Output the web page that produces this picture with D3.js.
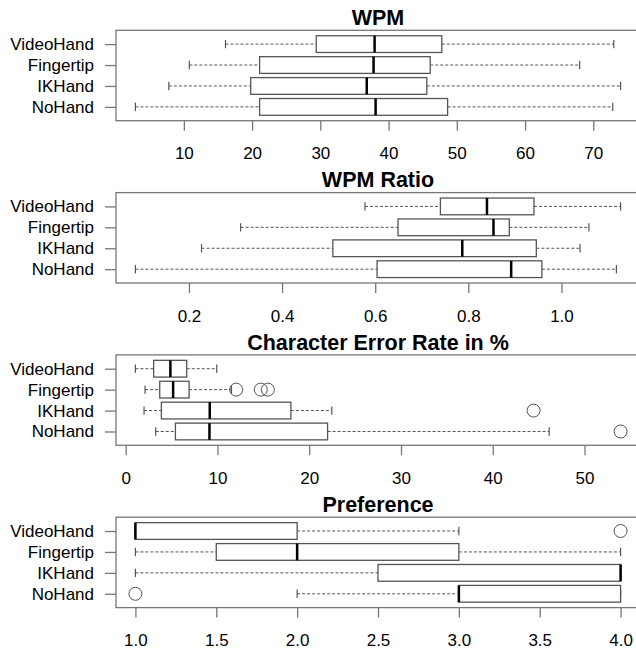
<!DOCTYPE html>
<html>
<head>
<meta charset="utf-8">
<script src="https://cdn.jsdelivr.net/npm/d3@7"></script>
<style>
  body { margin: 0; background: #fff; }
  svg { display: block; font-family: "Liberation Sans", Arial, sans-serif; }
</style>
</head>
<body>
<svg></svg>
<script>
// groups bottom -> top, stats are [low whisker, q1, median, q3, high whisker]
var groups = ["NoHand", "IKHand", "Fingertip", "VideoHand"];

var wpmStats = [
    [2.9, 21.1, 38.1, 48.65, 72.85],
    [7.8, 19.8, 36.8, 45.6, 74.0],
    [10.8, 21.1, 37.8, 46.1, 68.0],
    [16.1, 29.4, 37.95, 47.8, 73.0]
];
var wpmOutliers = [[], [], [], []];
var wpmTicks = [10, 20, 30, 40, 50, 60, 70];

var ratioStats = [
    [0.085, 0.604, 0.892, 0.958, 1.118],
    [0.227, 0.509, 0.787, 0.946, 1.040],
    [0.311, 0.649, 0.854, 0.888, 1.059],
    [0.578, 0.740, 0.840, 0.941, 1.127]
];
var ratioOutliers = [[], [], [], []];
var ratioTicks = [0.2, 0.4, 0.6, 0.8, 1.0];

var cerStats = [
    [3.27, 5.42, 9.13, 22.0, 46.15],
    [2.0, 3.89, 9.16, 18.0, 22.46],
    [2.11, 3.71, 5.17, 6.91, 11.53],
    [1.06, 3.05, 4.87, 6.65, 9.92]
];
var cerOutliers = [[53.93], [44.45], [12.04, 14.72, 15.49], []];
var cerTicks = [0, 10, 20, 30, 40, 50];

var prefStats = [
    [2, 3, 3, 4, 4],
    [1, 2.5, 4, 4, 4],
    [1, 1.5, 2, 3, 4],
    [1, 1, 1, 2, 3]
];
var prefOutliers = [[1], [], [], [4]];
var prefTicks = [1.0, 1.5, 2.0, 2.5, 3.0, 3.5, 4.0];

var panels = [
    {title: "WPM", stats: wpmStats, out: wpmOutliers, ticks: wpmTicks, fmt: d3.format("d")},
    {title: "WPM Ratio", stats: ratioStats, out: ratioOutliers, ticks: ratioTicks, fmt: d3.format(".1f")},
    {title: "Character Error Rate in %", stats: cerStats, out: cerOutliers, ticks: cerTicks, fmt: d3.format("d")},
    {title: "Preference", stats: prefStats, out: prefOutliers, ticks: prefTicks, fmt: d3.format(".1f")}
];

var W = 636, H = 652;
var svg = d3.select("svg").attr("width", W).attr("height", H);
svg.append("rect").attr("width", W).attr("height", H).attr("fill", "#fff");

var plot = {l: 116, r: 640, t: 30.3, b: 120.7};
var lineCol = "#555";

panels.forEach(function(p, i) {
    var g = svg.append("g").attr("transform", "translate(0," + (i * 162.3) + ")");

    // R style range: data extent padded by 4%
    var all = [];
    p.stats.forEach(function(s, k) { all = all.concat(s, p.out[k]); });
    var lo = d3.min(all), hi = d3.max(all), pad = (hi - lo) * 0.04;

    var x = d3.scaleLinear().domain([lo - pad, hi + pad]).range([plot.l, plot.r]);
    var y = d3.scaleLinear().domain([0.34, 4.66]).range([plot.b, plot.t]);
    var half = (y(1) - y(1.4));

    g.append("text")
        .attr("x", (plot.l + plot.r) / 2)
        .attr("y", 25)
        .attr("text-anchor", "middle")
        .attr("font-size", 21.5)
        .attr("font-weight", "bold")
        .text(p.title);

    var xAxis = d3.axisBottom(x).tickValues(p.ticks).tickFormat(p.fmt)
        .tickSize(10).tickPadding(16.5);
    var xg = g.append("g").attr("transform", "translate(0," + plot.b + ")").call(xAxis);
    xg.select(".domain").remove();
    xg.selectAll("line").attr("stroke", "#777").attr("stroke-width", 1.3);
    xg.selectAll("text").attr("font-size", 17).attr("fill", "#000");

    var yAxis = d3.axisLeft(y).tickValues([1, 2, 3, 4])
        .tickFormat(function(d) { return groups[d - 1]; })
        .tickSize(11).tickPadding(11);
    var yg = g.append("g").attr("transform", "translate(" + plot.l + ",0)").call(yAxis);
    yg.select(".domain").remove();
    yg.selectAll("line").attr("stroke", "#777").attr("stroke-width", 1.3);
    yg.selectAll("text").attr("font-size", 17).attr("fill", "#000");

    p.stats.forEach(function(s, k) {
        var cy = y(k + 1);
        var bg = g.append("g");

        // whiskers
        [[s[0], s[1]], [s[3], s[4]]].forEach(function(w) {
            if (w[0] === w[1]) return;
            bg.append("line")
                .attr("x1", x(w[0])).attr("x2", x(w[1]))
                .attr("y1", cy).attr("y2", cy)
                .attr("stroke", lineCol).attr("stroke-width", 1)
                .attr("stroke-dasharray", "3,2");
        });
        // staples
        [s[0], s[4]].forEach(function(v) {
            bg.append("line")
                .attr("x1", x(v)).attr("x2", x(v))
                .attr("y1", cy - half / 2).attr("y2", cy + half / 2)
                .attr("stroke", lineCol).attr("stroke-width", 1.2);
        });
        bg.append("rect")
            .attr("x", x(s[1])).attr("y", cy - half)
            .attr("width", x(s[3]) - x(s[1])).attr("height", half * 2)
            .attr("fill", "#fff").attr("stroke", lineCol).attr("stroke-width", 1.3);
        bg.append("line")
            .attr("x1", x(s[2])).attr("x2", x(s[2]))
            .attr("y1", cy - half).attr("y2", cy + half)
            .attr("stroke", "#000").attr("stroke-width", 2.5);

        bg.selectAll("circle.out").data(p.out[k]).enter().append("circle")
            .attr("cx", function(d) { return x(d); })
            .attr("cy", cy)
            .attr("r", 6.5)
            .attr("fill", "none")
            .attr("stroke", lineCol).attr("stroke-width", 1);
    });

    g.append("rect")
        .attr("x", plot.l).attr("y", plot.t)
        .attr("width", plot.r - plot.l).attr("height", plot.b - plot.t)
        .attr("fill", "none").attr("stroke", "#777").attr("stroke-width", 1.3);
});
</script>
</body>
</html>
